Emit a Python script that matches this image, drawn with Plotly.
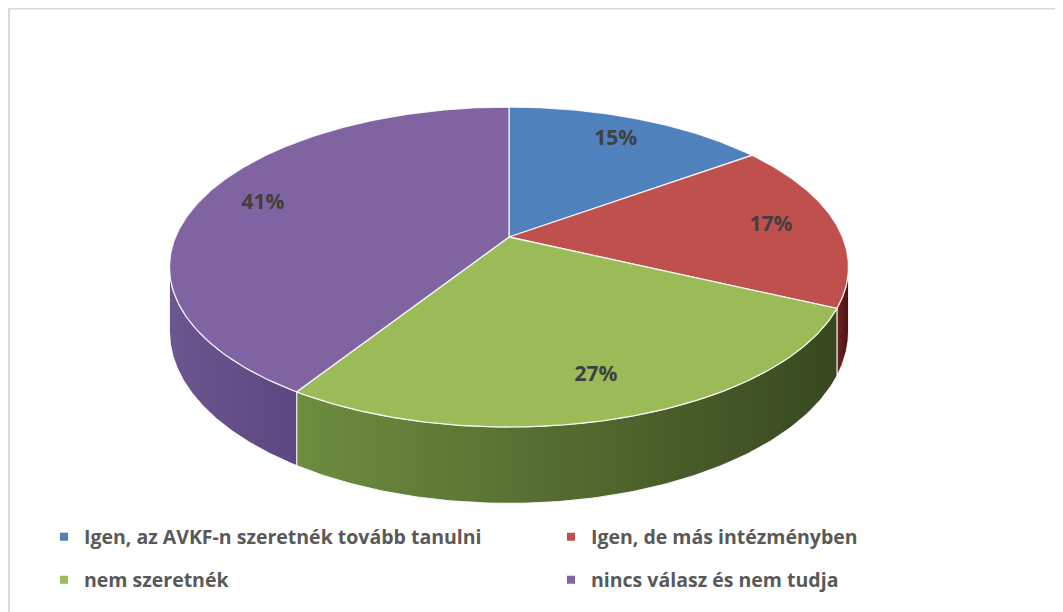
import numpy as np
import plotly.graph_objects as go

# data
categories = ["Igen, az AVKF-n szeretnék tovább tanulni", "Igen, de más intézményben",
              "nem szeretnék", "nincs válasz és nem tudja"]
values = [15, 17, 27, 41]
pct_labels = ["15%", "17%", "27%", "41%"]

top_colors = ["#4F81BD", "#C0504D", "#9BBB59", "#8064A2"]
wall_colors = [["#34568a", "#243d63"], ["#6e2422", "#4a1312"],
               ["#6e8d3f", "#394820"], ["#6b5690", "#5c4780"]]

# page is shown with an 8px body margin, so the figure covers page pixels 8..1063 / 8..612
OFF = 8
W, H = 1063 - OFF, 612 - OFF

# 3D pie geometry (page pixels), simple perspective projection
cx, cy = 509, 237
ax_r, by_r, persp = 333.5, 154.4, 0.1875
depth = 62


def proj(r, th):
    u = r * np.sin(th)
    v = r * np.cos(th)
    d = 1 + persp * v
    return cx + ax_r * u / d, cy - by_r * v / d


def px_x(x):
    return (x - OFF) / W


def px_y(y):
    return 1 - (y - OFF) / H


fracs = np.array(values, dtype=float) / sum(values)
bounds = np.concatenate([[0], np.cumsum(fracs)]) * 2 * np.pi
vis0 = np.arccos(-persp)
vis1 = 2 * np.pi - vis0

fig = go.Figure()

# side walls (front only)
for i in range(len(values)):
    t0, t1 = max(bounds[i], vis0), min(bounds[i + 1], vis1)
    if t1 <= t0:
        continue
    th = np.linspace(t0, t1, 120)
    xt, yt = proj(1, th)
    yb = yt + depth / (1 + persp * np.cos(th))
    xs = np.concatenate([xt, xt[::-1], xt[:1]])
    ys = np.concatenate([yt, yb[::-1], yt[:1]])
    fig.add_trace(go.Scatter(
        x=xs, y=ys, mode="lines", fill="toself",
        line=dict(color="rgba(255,255,255,0.9)", width=1),
        fillgradient=dict(type="horizontal",
                          colorscale=[[0, wall_colors[i][0]], [1, wall_colors[i][1]]]),
        hoverinfo="skip", showlegend=False))

# top surfaces
for i in range(len(values)):
    th = np.linspace(bounds[i], bounds[i + 1], 200)
    xa, ya = proj(1, th)
    xs = np.concatenate([[cx], xa, [cx]])
    ys = np.concatenate([[cy], ya, [cy]])
    fig.add_trace(go.Scatter(
        x=xs, y=ys, mode="lines", fill="toself", fillcolor=top_colors[i],
        line=dict(color="rgba(255,255,255,0.85)", width=1.3),
        name=categories[i], hoverinfo="name", showlegend=False))

# percentage labels
mids = (bounds[:-1] + bounds[1:]) / 2
lx, ly = proj(0.8, mids)
fig.add_trace(go.Scatter(
    x=lx, y=ly, mode="text", text=["<b>%s</b>" % t for t in pct_labels],
    textfont=dict(family="Open Sans, sans-serif", size=21, color="#404040"),
    hoverinfo="skip", showlegend=False))

# legend entries, one legend box each (2 x 2 grid)
legend_pos = [(44, 537), (551, 537), (44, 580), (551, 580)]
legend_names = ["legend", "legend2", "legend3", "legend4"]
legends = {}
for i in range(len(values)):
    fig.add_trace(go.Scatter(
        x=[None], y=[None], mode="markers", name="<b>%s</b>" % categories[i],
        marker=dict(symbol="square", size=8, color=top_colors[i]),
        legend=legend_names[i]))
    legends[legend_names[i]] = dict(
        orientation="h", itemwidth=30, xanchor="left", yanchor="middle",
        x=px_x(legend_pos[i][0]), y=px_y(legend_pos[i][1]),
        font=dict(family="Open Sans, sans-serif", size=19.5, color="#595959"),
        bgcolor="rgba(0,0,0,0)")

fig.update_layout(
    width=W, height=H,
    margin=dict(l=0, r=0, t=0, b=0),
    paper_bgcolor="white", plot_bgcolor="white",
    xaxis=dict(range=[OFF, 1063], visible=False, fixedrange=True),
    yaxis=dict(range=[612, OFF], visible=False, fixedrange=True),
    shapes=[
        dict(type="line", xref="x", yref="y", x0=8.5, x1=1070, y0=8.5, y1=8.5,
             line=dict(color="#d9d9d9", width=2)),
        dict(type="line", xref="x", yref="y", x0=9, x1=9, y0=8.5, y1=620,
             line=dict(color="#d9d9d9", width=2)),
    ],
    **legends,
)

fig.write_html("out.html")
